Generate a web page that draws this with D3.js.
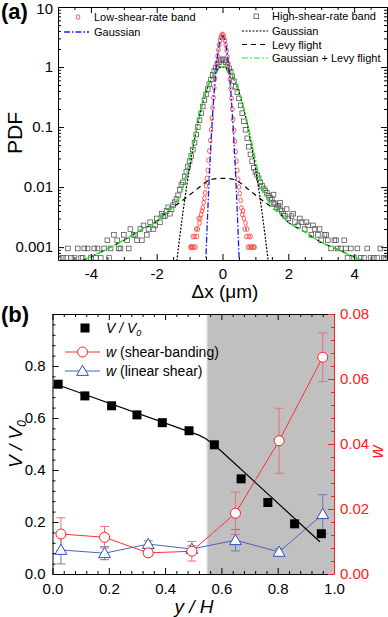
<!DOCTYPE html>
<html>
<head>
<meta charset="utf-8">
<script src="https://cdn.jsdelivr.net/npm/d3@7"></script>
<style>
  body { margin: 0; background: #fff; }
  svg text { font-family: Arial, "Liberation Sans", sans-serif; }
</style>
</head>
<body>
<svg id="chart" width="388" height="617"></svg>
<script>
// ---------- data, panel (a) ----------
const lowBand = [
  [-0.975,0.001],[-0.95,0.001],[-0.925,0.001],[-0.9,0.0015],[-0.875,0.001],[-0.85,0.0015],[-0.825,0.001],
  [-0.8,0.002],[-0.775,0.0015],[-0.75,0.002],[-0.725,0.003],[-0.7,0.0025],[-0.675,0.003],[-0.65,0.0035],
  [-0.625,0.004],[-0.6,0.0045],[-0.575,0.0055],[-0.55,0.0065],[-0.525,0.008],[-0.5,0.0105],[-0.475,0.014],
  [-0.45,0.019],[-0.425,0.028],[-0.4,0.04],[-0.375,0.06],[-0.35,0.09],[-0.325,0.14],[-0.3,0.21],
  [-0.275,0.31],[-0.25,0.45],[-0.225,0.64],[-0.2,0.88],[-0.175,1.18],[-0.15,1.52],[-0.125,1.92],
  [-0.1,2.35],[-0.075,2.8],[-0.05,3.15],[-0.025,3.4],[0,3.5],
  [0.025,3.4],[0.05,3.1],[0.075,2.75],[0.1,2.3],[0.125,1.88],[0.15,1.48],[0.175,1.15],[0.2,0.86],
  [0.225,0.62],[0.25,0.44],[0.275,0.3],[0.3,0.2],[0.325,0.135],[0.35,0.088],[0.375,0.058],[0.4,0.039],
  [0.425,0.027],[0.45,0.019],[0.475,0.0135],[0.5,0.01],[0.525,0.0078],[0.55,0.006],[0.575,0.0045],
  [0.6,0.0035],[0.625,0.004],[0.65,0.003],[0.675,0.002],[0.7,0.0025],[0.725,0.0015],[0.75,0.002],
  [0.775,0.001],[0.8,0.0015],[0.825,0.001],[0.85,0.0015],[0.875,0.001],[0.9,0.001],[0.95,0.001],[0.975,0.001]
];

const highBand = [
  [-4.95,0.00066],[-4.85,0.00066],[-4.75,0.00066],[-4.7,0.00095],[-4.6,0.00066],[-4.5,0.00066],[-4.4,0.00095],
  [-4.3,0.00066],[-4.25,0.00066],[-4.2,0.00095],[-4.1,0.00095],[-4.0,0.00066],[-3.9,0.00095],[-3.85,0.00066],
  [-3.8,0.00095],[-3.7,0.00066],[-3.6,0.00095],[-3.5,0.0013],[-3.45,0.00066],[-3.4,0.00095],[-3.3,0.0016],
  [-3.2,0.0013],[-3.15,0.00095],[-3.1,0.00095],[-3.0,0.0016],[-2.9,0.0013],[-2.85,0.00095],[-2.8,0.002],
  [-2.7,0.0016],[-2.65,0.0016],[-2.6,0.0013],[-2.5,0.002],[-2.45,0.0013],[-2.4,0.0023],[-2.3,0.0016],
  [-2.25,0.002],[-2.2,0.0026],[-2.1,0.002],[-2.05,0.0023],[-2.0,0.003],[-1.9,0.0026],[-1.85,0.0036],
  [-1.8,0.0033],[-1.75,0.0033],[-1.7,0.004],[-1.65,0.0046],[-1.6,0.0036],[-1.55,0.0043],[-1.5,0.005],
  [-1.45,0.0056],[-1.4,0.0063],[-1.35,0.0073],[-1.3,0.009],[-1.25,0.011],[-1.2,0.012],[-1.15,0.015],
  [-1.1,0.018],[-1.05,0.022],[-1.0,0.027],[-0.95,0.033],[-0.9,0.042],[-0.85,0.055],[-0.8,0.075],
  [-0.75,0.1],[-0.7,0.13],[-0.65,0.17],[-0.6,0.22],[-0.55,0.28],[-0.5,0.35],[-0.45,0.43],[-0.4,0.52],
  [-0.35,0.62],[-0.3,0.74],[-0.25,0.86],[-0.2,0.98],[-0.15,1.1],[-0.1,1.2],[-0.05,1.3],[0,1.35],
  [0.05,1.3],[0.1,1.2],[0.15,1.08],[0.2,0.95],[0.25,0.83],[0.3,0.7],[0.35,0.58],[0.4,0.47],[0.45,0.38],
  [0.5,0.3],[0.55,0.23],[0.6,0.17],[0.65,0.125],[0.7,0.09],[0.75,0.065],[0.8,0.047],[0.85,0.035],
  [0.9,0.027],[0.95,0.021],[1.0,0.018],[1.05,0.016],[1.1,0.014],[1.15,0.012],[1.2,0.0105],[1.25,0.0095],
  [1.3,0.0088],[1.35,0.008],[1.4,0.0072],[1.45,0.0066],[1.5,0.0062],[1.55,0.0055],[1.6,0.0052],
  [1.65,0.0046],[1.7,0.0049],[1.75,0.0043],[1.8,0.004],[1.85,0.0036],[1.9,0.0033],[2.0,0.003],
  [2.1,0.0033],[2.2,0.0026],[2.3,0.0023],[2.4,0.0026],[2.5,0.002],[2.6,0.0023],[2.7,0.0016],[2.8,0.002],
  [2.9,0.0016],[3.0,0.0013],[3.1,0.0016],[3.2,0.0013],[3.3,0.00095],[3.4,0.0013],[3.5,0.00095],
  [3.6,0.00095],[3.7,0.0013],[3.8,0.00066],[3.9,0.00095],[4.0,0.00066],[4.1,0.00095],[4.2,0.00066],
  [4.3,0.00066],[4.4,0.00095],[4.5,0.00066],[4.6,0.00066],[4.7,0.00066],[4.8,0.00095],[4.9,0.00066],
  [4.95,0.00066],
  [1.55,0.0075],[1.75,0.0055],[1.95,0.0043],[2.15,0.0036],[2.35,0.003],[2.55,0.0026],[2.75,0.0023],
  [2.95,0.002],[3.15,0.0016],[3.45,0.0013],[3.75,0.00095]
];

const gaussLow = [
  [-0.55,0.00013],[-0.5,0.00075],[-0.45,0.0037],[-0.4,0.0154],[-0.35,0.054],[-0.3,0.161],[-0.25,0.405],
  [-0.2,0.863],[-0.15,1.55],[-0.1,2.36],[-0.05,3.03],[0,3.3],[0.05,3.03],[0.1,2.36],[0.15,1.55],
  [0.2,0.863],[0.25,0.405],[0.3,0.161],[0.35,0.054],[0.4,0.0154],[0.45,0.0037],[0.5,0.00075],[0.55,0.00013]
];

const gaussHigh = [
  [-1.45,0.0003],[-1.4,0.00052],[-1.3,0.00147],[-1.2,0.00385],[-1.1,0.0094],[-1.0,0.021],[-0.9,0.044],
  [-0.8,0.085],[-0.7,0.151],[-0.6,0.249],[-0.5,0.381],[-0.4,0.539],[-0.3,0.707],[-0.2,0.857],[-0.1,0.962],
  [0,1.0],[0.1,0.962],[0.2,0.857],[0.3,0.707],[0.4,0.539],[0.5,0.381],[0.6,0.249],[0.7,0.151],[0.8,0.085],
  [0.9,0.044],[1.0,0.021],[1.1,0.0094],[1.2,0.00385],[1.3,0.00147],[1.4,0.00052],[1.45,0.0003]
];

const levyFit = [
  [-4.5,0.00052],[-4,0.00069],[-3.5,0.00094],[-3,0.0013],[-2.5,0.0019],[-2,0.0027],[-1.75,0.0036],
  [-1.5,0.0046],[-1.25,0.0058],[-1,0.0074],[-0.75,0.0095],[-0.5,0.0122],[-0.25,0.0137],[0,0.014],
  [0.25,0.0137],[0.5,0.0122],[0.75,0.0095],[1,0.0074],[1.25,0.0058],[1.5,0.0046],[1.75,0.0036],
  [2,0.0026],[2.5,0.0018],[3,0.0012],[3.5,0.00092],[4,0.00068],[4.5,0.00052]
];

const comboFit = [
  [-4.5,0.00052],[-4,0.00069],[-3.5,0.00094],[-3,0.0013],[-2.5,0.0019],[-2,0.0027],[-1.75,0.0036],
  [-1.5,0.0048],[-1.4,0.0057],[-1.3,0.0071],[-1.2,0.0100],[-1.1,0.0162],[-1.0,0.0284],[-0.9,0.052],
  [-0.8,0.093],[-0.7,0.161],[-0.6,0.26],[-0.5,0.393],[-0.4,0.552],[-0.3,0.72],[-0.2,0.871],[-0.1,0.976],
  [0,1.014],[0.1,0.976],[0.2,0.871],[0.3,0.72],[0.4,0.552],[0.5,0.393],[0.6,0.26],[0.7,0.161],[0.8,0.093],
  [0.9,0.052],[1.0,0.0284],[1.1,0.0162],[1.2,0.0100],[1.3,0.0071],[1.4,0.0057],[1.5,0.0048],[1.75,0.0036],
  [2,0.0026],[2.5,0.0018],[3,0.0012],[3.5,0.00092],[4,0.00068],[4.5,0.00052]
];

const xTicksA = [-4, -2, 0, 2, 4];
const yTicksA = [0.001, 0.01, 0.1, 1, 10];

// ---------- data, panel (b) ----------
const yPos = [0.02, 0.115, 0.21, 0.30, 0.39, 0.485, 0.575, 0.67, 0.765, 0.86, 0.955];
const vRatio = [0.73, 0.685, 0.647, 0.612, 0.582, 0.551, 0.497, 0.366, 0.275, 0.193, 0.155];
const vFit = [[0.02,0.727],[0.52,0.534],[0.545,0.52],[0.57,0.5],[0.6,0.472],[0.95,0.124]];

const wPos = [0.03, 0.185, 0.34, 0.495, 0.65, 0.805, 0.96];
const wBand = [0.0123, 0.0113, 0.0065, 0.007, 0.0187, 0.041, 0.0667];
const wBandErr = [0.005, 0.0033, 0.001, 0.003, 0.0065, 0.01, 0.0075];
const wLinear = [0.0074, 0.0064, 0.0092, 0.0077, 0.0104, 0.0068, 0.0184];
const wLinearErr = [0.0043, 0.002, 0.001, 0.001, 0.0033, 0.001, 0.006];
const bandStart = 0.548;

const xTicksB = [0, 0.2, 0.4, 0.6, 0.8, 1.0];
const yTicksB = [0, 0.2, 0.4, 0.6, 0.8, 1.0];
const wTicks = [0, 0.02, 0.04, 0.06, 0.08];

const svg = d3.select("#chart");
const FONT = 'Arial, "Liberation Sans", sans-serif';

function addAxis(axis, tr, color, fs) {
  const a = svg.append("g").attr("transform", tr).call(axis)
    .attr("font-size", fs).attr("font-family", FONT);
  a.select(".domain").attr("stroke", color);
  a.selectAll(".tick line").attr("stroke", color);
  a.selectAll(".tick text").attr("fill", color);
  return a;
}
function minorAxis(axis, tr, color) {
  const a = svg.append("g").attr("transform", tr).call(axis.tickFormat(""));
  a.select(".domain").remove();
  a.selectAll(".tick line").attr("stroke", color);
}

// =================== panel (a) ===================
const xA = d3.scaleLinear().domain([-5, 5]).range([58, 387]);
const yA = d3.scaleLog().domain([0.00061, 10]).range([260, 7]);

svg.append("clipPath").attr("id", "clipA").append("rect")
  .attr("x", 58).attr("y", 7).attr("width", 329).attr("height", 253);

const minorXA = d3.range(-10, 11).map(i => i / 2).filter(v => !xTicksA.includes(v));
const minorYA = [];
[0.0001, 0.001, 0.01, 0.1, 1].forEach(d => d3.range(2, 10).forEach(k => {
  const v = d * k; if (v > 0.00061 && v < 10) minorYA.push(v);
}));

addAxis(d3.axisBottom(xA).tickValues(xTicksA).tickSize(-6).tickSizeOuter(0).tickPadding(8).tickFormat(d => String(d)),
  "translate(0,260)", "#000", 15);
minorAxis(d3.axisBottom(xA).tickValues(minorXA).tickSize(-3), "translate(0,260)", "#000");
addAxis(d3.axisTop(xA).tickValues(xTicksA).tickSize(-6).tickSizeOuter(0).tickFormat(""), "translate(0,7)", "#000", 15);
minorAxis(d3.axisTop(xA).tickValues(minorXA).tickSize(-3), "translate(0,7)", "#000");
const leftA = addAxis(d3.axisLeft(yA).tickValues(yTicksA).tickSize(-6).tickSizeOuter(0).tickPadding(5).tickFormat(d => String(d)),
  "translate(58,0)", "#000", 15);
leftA.selectAll(".tick text").filter(d => d === 10).attr("dy", "0.45em");
minorAxis(d3.axisLeft(yA).tickValues(minorYA).tickSize(-3), "translate(58,0)", "#000");
addAxis(d3.axisRight(yA).tickValues(yTicksA).tickSize(-6).tickSizeOuter(0).tickFormat(""), "translate(387,0)", "#000", 15);
minorAxis(d3.axisRight(yA).tickValues(minorYA).tickSize(-3), "translate(387,0)", "#000");

const plotA = svg.append("g").attr("clip-path", "url(#clipA)");
const lineA = d3.line().x(d => xA(d[0])).y(d => yA(d[1])).curve(d3.curveMonotoneX);

plotA.selectAll("rect.hi").data(highBand).join("rect").attr("class", "hi")
  .attr("x", d => xA(d[0]) - 2.3).attr("y", d => yA(d[1]) - 2.3)
  .attr("width", 4.6).attr("height", 4.6)
  .attr("fill", "none").attr("stroke", "#5a5a5a").attr("stroke-width", 0.8);

plotA.selectAll("ellipse.lo").data(lowBand).join("ellipse").attr("class", "lo")
  .attr("cx", d => xA(d[0])).attr("cy", d => yA(d[1]))
  .attr("rx", 1.8).attr("ry", 2.4)
  .attr("fill", "none").attr("stroke", "#ff4848").attr("stroke-width", 0.9);

plotA.append("path").datum(levyFit).attr("d", lineA)
  .attr("fill", "none").attr("stroke", "#000").attr("stroke-width", 1.2).attr("stroke-dasharray", "5,4");
plotA.append("path").datum(gaussHigh).attr("d", lineA)
  .attr("fill", "none").attr("stroke", "#000").attr("stroke-width", 1.2).attr("stroke-dasharray", "2,1.5");
plotA.append("path").datum(comboFit).attr("d", lineA)
  .attr("fill", "none").attr("stroke", "#22ee22").attr("stroke-width", 1.4).attr("stroke-dasharray", "6,2,2,2");
plotA.append("path").datum(gaussLow).attr("d", lineA)
  .attr("fill", "none").attr("stroke", "#1a1aee").attr("stroke-width", 1.3).attr("stroke-dasharray", "6,2,1.5,2");

// legend (a)
const legA = svg.append("g").attr("font-family", FONT).attr("font-size", 11);
legA.append("ellipse").attr("cx", 78).attr("cy", 17).attr("rx", 1.8).attr("ry", 2.4)
  .attr("fill", "none").attr("stroke", "#ff4848").attr("stroke-width", 0.9);
legA.append("text").attr("x", 94).attr("y", 21).text("Low-shear-rate band");
legA.append("line").attr("x1", 64).attr("x2", 89).attr("y1", 32).attr("y2", 32)
  .attr("stroke", "#1a1aee").attr("stroke-width", 1.3).attr("stroke-dasharray", "6,2,1.5,2");
legA.append("text").attr("x", 94).attr("y", 36).text("Gaussian");
legA.append("rect").attr("x", 254).attr("y", 14).attr("width", 4.6).attr("height", 4.6)
  .attr("fill", "none").attr("stroke", "#5a5a5a").attr("stroke-width", 0.8);
legA.append("text").attr("x", 272).attr("y", 20).text("High-shear-rate band");
[["2,1.5", "#000", 31, "Gaussian"], ["5,4", "#000", 44.5, "Levy flight"],
 ["6,2,2,2", "#22ee22", 58, "Gaussian + Levy flight"]].forEach(r => {
  legA.append("line").attr("x1", 242).attr("x2", 268).attr("y1", r[2]).attr("y2", r[2])
    .attr("stroke", r[1]).attr("stroke-width", 1.2).attr("stroke-dasharray", r[0]);
  legA.append("text").attr("x", 272).attr("y", r[2] + 4).text(r[3]);
});

svg.append("text").attr("x", 1).attr("y", 19).attr("font-size", 22).attr("font-weight", "bold")
  .attr("font-family", FONT).text("(a)");
svg.append("text").attr("transform", "translate(22,133) rotate(-90)").attr("text-anchor", "middle")
  .attr("font-size", 21).attr("font-family", FONT).text("PDF");
svg.append("text").attr("x", 225).attr("y", 298).attr("text-anchor", "middle")
  .attr("font-size", 19).attr("font-family", FONT).text("\u0394x (\u03bcm)");

// =================== panel (b) ===================
const xB = d3.scaleLinear().domain([0, 1]).range([52.5, 334]);
const yB = d3.scaleLinear().domain([0, 1]).range([574, 314]);
const yW = d3.scaleLinear().domain([0, 0.08]).range([574, 314]);

svg.append("rect").attr("x", xB(bandStart)).attr("y", 314)
  .attr("width", xB(1) - xB(bandStart)).attr("height", 260).attr("fill", "#c0c0c0");
svg.append("line").attr("x1", xB(bandStart) + 0.5).attr("x2", xB(bandStart) + 0.5).attr("y1", 314).attr("y2", 574)
  .attr("stroke", "#dcdcdc").attr("stroke-width", 1);

const minorXB = d3.range(0, 26).map(i => i * 0.04).filter(v => Math.abs(v * 5 - Math.round(v * 5)) > 1e-6);
const minorW = d3.range(0, 21).map(i => i * 0.004).filter(v => Math.abs(v * 50 - Math.round(v * 50)) > 1e-6);

addAxis(d3.axisBottom(xB).tickValues(xTicksB).tickSize(-6).tickSizeOuter(0).tickPadding(9).tickFormat(d3.format(".1f")),
  "translate(0,574)", "#000", 15);
minorAxis(d3.axisBottom(xB).tickValues(minorXB).tickSize(-3), "translate(0,574)", "#000");
addAxis(d3.axisTop(xB).tickValues(xTicksB).tickSize(-6).tickSizeOuter(0).tickFormat(""), "translate(0,314)", "#000", 15);
minorAxis(d3.axisTop(xB).tickValues(minorXB).tickSize(-3), "translate(0,314)", "#000");
addAxis(d3.axisLeft(yB).tickValues(yTicksB).tickSize(-6).tickSizeOuter(0).tickPadding(7)
  .tickFormat(d => d < 0.9 ? d3.format(".1f")(d) : ""), "translate(52.5,0)", "#000", 15);
minorAxis(d3.axisLeft(yB).tickValues(minorXB).tickSize(-3), "translate(52.5,0)", "#000");
addAxis(d3.axisRight(yW).tickValues(wTicks).tickSize(-6).tickSizeOuter(0).tickPadding(6).tickFormat(d3.format(".2f")),
  "translate(334,0)", "#ff2020", 15);
minorAxis(d3.axisRight(yW).tickValues(minorW).tickSize(-3), "translate(334,0)", "#ff2020");

const lineB = d3.line().x(d => xB(d[0])).y(d => yB(d[1]));

// error bars
function errBars(vals, errs, color) {
  const g = svg.append("g").attr("stroke", color).attr("stroke-width", 1);
  wPos.forEach((x, i) => {
    const cx = xB(x), t = yW(vals[i] + errs[i]), b = yW(vals[i] - errs[i]);
    g.append("line").attr("x1", cx).attr("x2", cx).attr("y1", t).attr("y2", b);
    g.append("line").attr("x1", cx - 4.5).attr("x2", cx + 4.5).attr("y1", t).attr("y2", t);
    g.append("line").attr("x1", cx - 4.5).attr("x2", cx + 4.5).attr("y1", b).attr("y2", b);
  });
}
errBars(wLinear, wLinearErr, "#6a7ab8");
errBars(wBand, wBandErr, "#f07070");

const lineW = d3.line().x(d => xB(d[0])).y(d => yW(d[1]));
svg.append("path").datum(wPos.map((x, i) => [x, wLinear[i]])).attr("d", lineW)
  .attr("fill", "none").attr("stroke", "#4a64b4").attr("stroke-width", 1);
svg.append("path").datum(wPos.map((x, i) => [x, wBand[i]])).attr("d", lineW)
  .attr("fill", "none").attr("stroke", "#ff3030").attr("stroke-width", 1);

svg.append("path").datum(vFit).attr("d", lineB)
  .attr("fill", "none").attr("stroke", "#000").attr("stroke-width", 1.2);

svg.selectAll("rect.v").data(yPos).join("rect").attr("class", "v")
  .attr("x", (d) => xB(d) - 4.5).attr("y", (d, i) => yB(vRatio[i]) - 4.5)
  .attr("width", 9).attr("height", 9).attr("fill", "#000");

const tri = d3.symbol().type(d3.symbolTriangle).size(60);
svg.selectAll("path.tri").data(wPos).join("path").attr("class", "tri")
  .attr("d", tri).attr("transform", (d, i) => `translate(${xB(d)},${yW(wLinear[i]) + 1})`)
  .attr("fill", "#fff").attr("stroke", "#3050c0").attr("stroke-width", 1);
svg.selectAll("circle.wb").data(wPos).join("circle").attr("class", "wb")
  .attr("cx", d => xB(d)).attr("cy", (d, i) => yW(wBand[i])).attr("r", 5)
  .attr("fill", "#fff").attr("stroke", "#ff2020").attr("stroke-width", 1);

// legend (b)
const legB = svg.append("g").attr("font-family", FONT).attr("font-size", 14);
legB.append("rect").attr("x", 80.5).attr("y", 323.5).attr("width", 9).attr("height", 9).attr("fill", "#000");
const t1 = legB.append("text").attr("x", 106).attr("y", 333).attr("font-style", "italic");
t1.append("tspan").text("V / V");
t1.append("tspan").attr("font-size", 9).attr("dy", 3).text("0");
legB.append("line").attr("x1", 65).attr("x2", 100).attr("y1", 352).attr("y2", 352).attr("stroke", "#ff3030");
legB.append("circle").attr("cx", 82.5).attr("cy", 352).attr("r", 5).attr("fill", "#fff").attr("stroke", "#ff2020");
const t2 = legB.append("text").attr("x", 106).attr("y", 357);
t2.append("tspan").attr("font-style", "italic").text("w");
t2.append("tspan").text(" (shear-banding)");
legB.append("line").attr("x1", 65).attr("x2", 100).attr("y1", 371).attr("y2", 371).attr("stroke", "#4a64b4");
legB.append("path").attr("d", tri).attr("transform", "translate(82.5,372)")
  .attr("fill", "#fff").attr("stroke", "#3050c0");
const t3 = legB.append("text").attr("x", 106).attr("y", 376);
t3.append("tspan").attr("font-style", "italic").text("w");
t3.append("tspan").text(" (linear shear)");

svg.append("text").attr("x", 1).attr("y", 322).attr("font-size", 22).attr("font-weight", "bold")
  .attr("font-family", FONT).text("(b)");
const yl = svg.append("text").attr("transform", "translate(22,444) rotate(-90)").attr("text-anchor", "middle")
  .attr("font-size", 19).attr("font-family", FONT).attr("font-style", "italic");
yl.append("tspan").text("V / V");
yl.append("tspan").attr("font-size", 12).attr("dy", 4).text("0");
svg.append("text").attr("transform", "translate(383,452) rotate(-90)").attr("text-anchor", "middle")
  .attr("font-size", 18).attr("font-family", FONT).attr("font-style", "italic").attr("fill", "#ff2020").text("w");
svg.append("text").attr("x", 194).attr("y", 613).attr("text-anchor", "middle")
  .attr("font-size", 19).attr("font-family", FONT).attr("font-style", "italic").text("y / H");
</script>
</body>
</html>
